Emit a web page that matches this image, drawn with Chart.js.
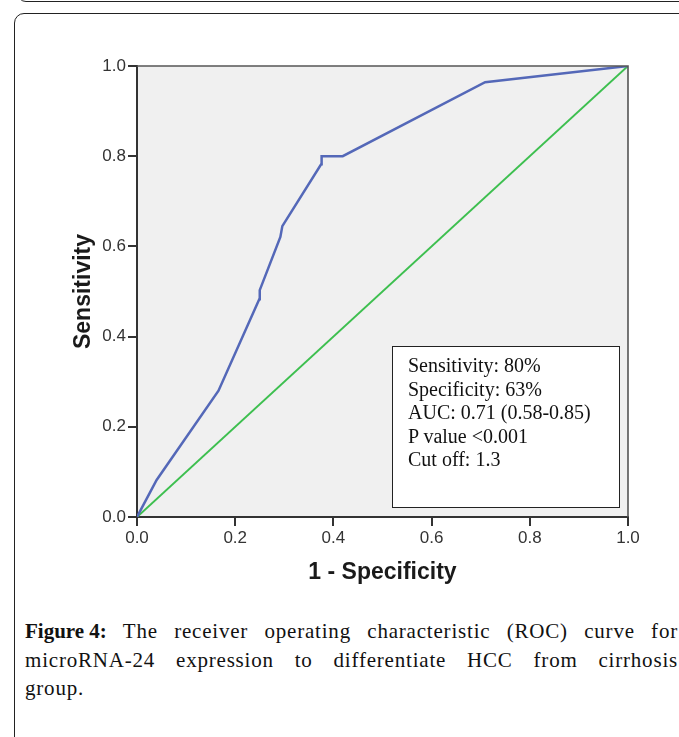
<!DOCTYPE html>
<html>
<head>
<meta charset="utf-8">
<script src="https://cdn.jsdelivr.net/npm/chart.js@4"></script>
<style>
  html, body { margin: 0; padding: 0; background: #fff; width: 679px; height: 737px; overflow: hidden; position: relative; }
  #prevFrame { position: absolute; left: 17px; top: -30px; width: 720px; height: 30px; border: 1.5px solid #222; border-radius: 9px; }
  #frame { position: absolute; left: 14px; top: 13px; width: 720px; height: 800px; border: 1.5px solid #222; border-radius: 10px; }
  #wrap { position: absolute; left: 0; top: 0; width: 679px; height: 600px; }
  #stats { position: absolute; left: 392px; top: 346px; width: 226px; height: 160px; border: 1.5px solid #222; background: #fff;
           font-family: "Liberation Serif", "Times New Roman", serif; font-size: 20px; line-height: 23.5px; color: #111;
           box-sizing: content-box; padding: 0; }
  #stats div { position: relative; left: 15px; }
  #stats .first { margin-top: 7px; }
  #caption { position: absolute; left: 25px; top: 617px; width: 653px; font-family: "Liberation Serif", "Times New Roman", serif;
             font-size: 21px; line-height: 28.5px; color: #111; letter-spacing: 0.8px; }
  #caption .j { text-align: justify; text-align-last: justify; }
  #caption .lbl { display: inline-block; white-space: nowrap; font-weight: bold; letter-spacing: 0; }
</style>
</head>
<body>
<div id="prevFrame"></div>
<div id="frame"></div>
<div id="wrap"><canvas id="c" width="679" height="600"></canvas></div>
<div id="stats">
  <div class="first">Sensitivity: 80%</div>
  <div>Specificity: 63%</div>
  <div>AUC: 0.71 (0.58-0.85)</div>
  <div>P value &lt;0.001</div>
  <div>Cut off: 1.3</div>
</div>
<div id="caption">
  <div class="j"><span class="lbl">Figure 4:</span> The receiver operating characteristic (ROC) curve for</div>
  <div class="j">microRNA-24 expression to differentiate HCC from cirrhosis</div>
  <div>group.</div>
</div>
<script>
// ROC curve: 1 - Specificity (x) vs Sensitivity (y)
const rocX = [0, 0.040, 0.166, 0.249, 0.250, 0.292, 0.296, 0.375, 0.376, 0.419, 0.709, 1.0];
const rocY = [0, 0.082, 0.280, 0.483, 0.503, 0.621, 0.645, 0.782, 0.800, 0.800, 0.964, 1.0];
// Reference line
const refX = [0, 1];
const refY = [0, 1];
const tickValues = [0, 0.2, 0.4, 0.6, 0.8, 1.0];
const xTitle = "1 - Specificity";
const yTitle = "Sensitivity";

const toPts = (xs, ys) => xs.map((x, i) => ({ x: x, y: ys[i] }));

const plotBg = {
  id: 'plotBg',
  beforeDraw(chart) {
    const { ctx, chartArea: a } = chart;
    ctx.save();
    ctx.fillStyle = '#f0f0f0';
    ctx.fillRect(a.left, a.top, a.right - a.left, a.bottom - a.top);
    ctx.restore();
  },
  afterDraw(chart) {
    const { ctx, chartArea: a } = chart;
    ctx.save();
    ctx.strokeStyle = '#555';
    ctx.lineWidth = 1.6;
    ctx.beginPath();
    ctx.moveTo(a.left, a.top);
    ctx.lineTo(a.right, a.top);
    ctx.lineTo(a.right, a.bottom);
    ctx.stroke();
    ctx.restore();
  }
};

const axisCommon = (title) => ({
  type: 'linear',
  min: 0,
  max: 1,
  afterBuildTicks(scale) { scale.ticks = tickValues.map(v => ({ value: v })); },
  ticks: {
    callback: v => Number(v).toFixed(1),
    font: { family: 'Liberation Sans', size: 17 },
    color: '#333',
    padding: 2
  },
  grid: { drawOnChartArea: false, drawTicks: true, tickLength: 9, color: '#333', tickColor: '#333', lineWidth: 2, tickWidth: 2 },
  border: { display: true, color: '#333', width: 2 },
  title: { display: true, text: title, font: { family: 'Liberation Sans', size: 23, weight: 'bold' }, color: '#1a1a1a', padding: 0 }
});

const xOpts = axisCommon(xTitle);
xOpts.afterFit = s => { s.height = 69; };
const yOpts = axisCommon(yTitle);
yOpts.afterFit = s => { s.width = 67; };

new Chart(document.getElementById('c'), {
  type: 'scatter',
  data: {
    datasets: [
      { data: toPts(rocX, rocY), showLine: true, borderColor: '#5468b8', borderWidth: 2.5, pointRadius: 0, tension: 0, fill: false },
      { data: toPts(refX, refY), showLine: true, borderColor: '#3dbf4f', borderWidth: 2, pointRadius: 0, tension: 0, fill: false }
    ]
  },
  options: {
    responsive: false,
    animation: false,
    layout: { padding: { left: 70, right: 51, top: 66, bottom: 14 } },
    plugins: { legend: { display: false }, tooltip: { enabled: false } },
    scales: { x: xOpts, y: yOpts }
  },
  plugins: [plotBg]
});
</script>
</body>
</html>
